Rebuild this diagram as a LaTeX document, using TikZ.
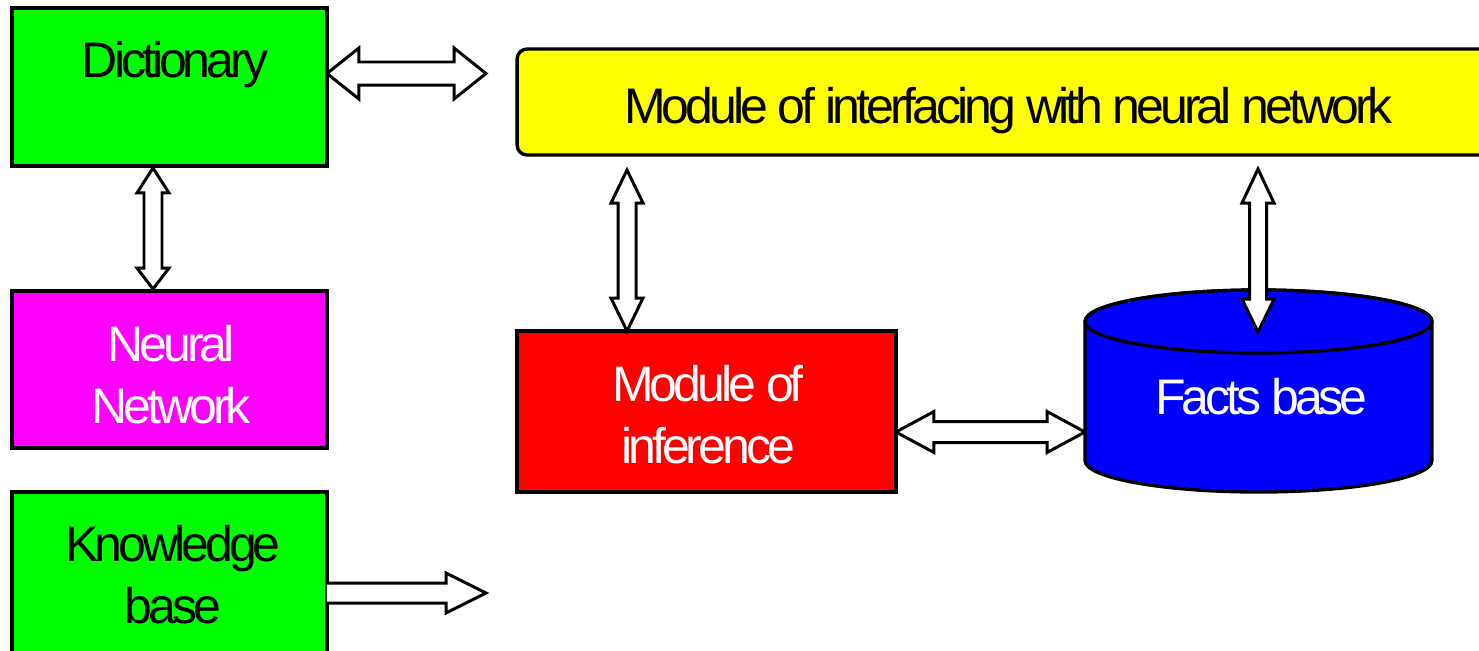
\documentclass[tikz,border=0pt]{standalone}
\usepackage{fontspec}
\setmainfont{Liberation Sans}[LetterSpace=-8]
\usetikzlibrary{calc}
\definecolor{dgreen}{RGB}{0,255,0}
\definecolor{nmag}{RGB}{255,0,255}
\definecolor{ylw}{RGB}{255,255,0}
\definecolor{rd}{RGB}{255,0,0}
\definecolor{bl}{RGB}{0,0,255}
% horizontal double block arrow: left tip, right tip, shaft half, head half, head length
\newcommand\hdarrow[5]{\draw[blockarrow] (#1) -- ($(#1)+(#5,-#4)$) -- ($(#1)+(#5,-#3)$) -- ($(#2)+(-#5,-#3)$) -- ($(#2)+(-#5,-#4)$) -- (#2) -- ($(#2)+(-#5,#4)$) -- ($(#2)+(-#5,#3)$) -- ($(#1)+(#5,#3)$) -- ($(#1)+(#5,#4)$) -- cycle;}
% vertical double block arrow: top tip, bottom tip, shaft half, head half, top head length, bottom head length
\newcommand\vdarrow[6]{\draw[blockarrow] (#1) -- ($(#1)+(#4,#5)$) -- ($(#1)+(#3,#5)$) -- ($(#2)+(#3,-#6)$) -- ($(#2)+(#4,-#6)$) -- (#2) -- ($(#2)+(-#4,-#6)$) -- ($(#2)+(-#3,-#6)$) -- ($(#1)+(-#3,#5)$) -- ($(#1)+(-#4,#5)$) -- cycle;}
% single block arrow: start (centre of shaft end), tip, shaft half, head half, head length
\newcommand\sarrow[5]{\draw[blockarrow] ($(#1)+(0,-#3)$) -- ($(#2)+(-#5,-#3)$) -- ($(#2)+(-#5,-#4)$) -- (#2) -- ($(#2)+(-#5,#4)$) -- ($(#2)+(-#5,#3)$) -- ($(#1)+(0,#3)$);}
\begin{document}
\begin{tikzpicture}[x=0.02cm,y=-0.02cm,
  box/.style={draw=black, line width=1.9pt, inner sep=0pt, outer sep=0pt},
  txt/.style={font=\fontsize{28.45pt}{35.3pt}\selectfont, inner sep=0pt, align=center},
  blockarrow/.style={draw=black, fill=white, line width=1.7pt, line join=miter},
  cylstyle/.style={draw=black, fill=bl, line width=1.9pt}]
\useasboundingbox (0,0) rectangle (1479,650);
\clip (0,0) rectangle (1479,650);

% boxes
\node[box, fill=dgreen, minimum width=6.3cm, minimum height=3.16cm] (dict) at (169.5,87) {};
\node[box, fill=nmag, minimum width=6.3cm, minimum height=3.14cm] (nn) at (169.5,369.5) {};
\node[box, fill=dgreen, minimum width=6.3cm, minimum height=4.16cm] (kb) at (169.5,596) {};
\node[box, fill=ylw, rounded corners=0.2cm, minimum width=19.86cm, minimum height=2.12cm] (ybox) at (1013.5,102) {};
\node[box, fill=rd, minimum width=7.58cm, minimum height=3.22cm] (inf) at (706.5,411.5) {};

% cylinder (facts base)
\coordinate (cyl) at (1258.5,321.5);
\draw[cylstyle] ($(cyl)+(-173.5,0)$) -- ($(cyl)+(-173.5,139)$)
  arc[start angle=180, end angle=0, x radius=173.5, y radius=31.5]
  -- ($(cyl)+(173.5,0)$)
  arc[start angle=0, end angle=-180, x radius=173.5, y radius=31.5] -- cycle;
\draw[cylstyle] (cyl) ellipse[x radius=173.5, y radius=31.5];

% texts
\node[txt, anchor=base] (dictT) at (175,77) {Dictionary};
\node[txt, text=white] (nnT) at (171,375) {Neural\\Network};
\node[txt] (kbT) at (173,575) {Knowledge\\base};
\node[txt, anchor=base] (yT) at (1008.5,123) {Module of interfacing with neural network};
\node[txt, text=white] (infT) at (708,415) {Module of\\inference};
\node[txt, text=white, anchor=base] (fbT) at (1261.5,414) {Facts base};

% connectors
\coordinate (a1L) at ($(dict.east)+(0,-13.5)$);
\coordinate (a1R) at (486,73.5);
\hdarrow{a1L}{a1R}{11.5}{25.5}{32}

\coordinate (a2T) at ($(dict.south)+(-16.5,2)$);
\coordinate (a2B) at ($(nn.north)+(-16.5,-2)$);
\vdarrow{a2T}{a2B}{9}{16}{25}{21}

\coordinate (a3T) at (627,170);
\coordinate (a3B) at ($(inf.north)+(-79.5,0)$);
\vdarrow{a3T}{a3B}{9}{16}{33}{33}

\coordinate (a4T) at (1258,169);
\coordinate (a4B) at (1258,332);
\vdarrow{a4T}{a4B}{8.5}{16}{34}{33}

\coordinate (a5L) at ($(inf.east)+(0,20.5)$);
\coordinate (a5R) at ($(cyl)+(-173.5,110.5)$);
\hdarrow{a5L}{a5R}{10.5}{20.5}{38}

\coordinate (a6L) at ($(kb.east)+(0,-3)$);
\coordinate (a6R) at (486,593);
\sarrow{a6L}{a6R}{10}{20}{40}
\end{tikzpicture}
\end{document}
